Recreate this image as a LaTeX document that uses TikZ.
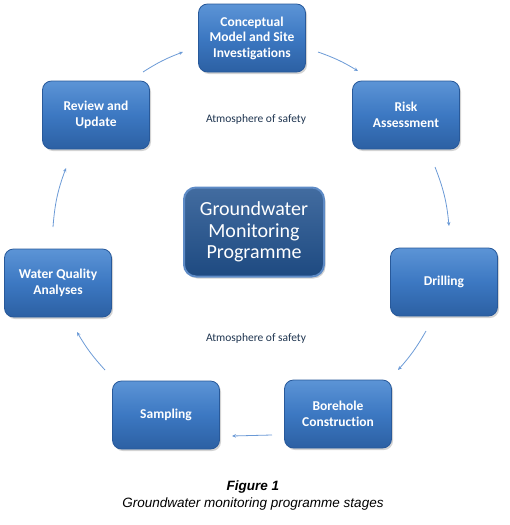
\documentclass[tikz,border=0pt]{standalone}
\usepackage{fontspec}
\setmainfont{Carlito}[Ligatures={NoCommon}]
\newfontfamily\capfont{Liberation Sans}
\usetikzlibrary{calc,shadows,arrows.meta}
\definecolor{boxtop}{HTML}{5C94D6}
\definecolor{boxmid}{HTML}{3C78C2}
\definecolor{boxbot}{HTML}{2C60A3}
\definecolor{boxedge}{HTML}{28599A}
\definecolor{ctrfill}{HTML}{21528F}
\definecolor{ctredge}{HTML}{5E8BC6}
\definecolor{arrowc}{HTML}{6B9AD6}
\definecolor{safety}{HTML}{1F3550}
\tikzset{
  stagebox/.style={rectangle, rounded corners=9pt, minimum width=107pt, minimum height=68pt,
    top color=boxtop, bottom color=boxbot, middle color=boxmid, draw=boxedge, line width=0.8pt,
    text=white, align=center, font=\fontsize{13.5}{15.5}\selectfont\bfseries,
    drop shadow={shadow xshift=1.5pt, shadow yshift=-2pt, opacity=0.35}},
  centerbox/.style={rectangle, rounded corners=12pt, minimum width=140pt, minimum height=89pt,
    top color=ctrfill!85!white, bottom color=ctrfill!90!black, draw=ctredge, line width=2pt,
    text=white, align=center, font=\fontsize{20}{21.5}\selectfont,
    drop shadow={shadow xshift=1.5pt, shadow yshift=-2pt, opacity=0.35}},
  flow/.style={draw=arrowc, line width=0.8pt, -{Stealth[length=4pt,width=3.5pt]}},
  safetext/.style={text=safety, font=\fontsize{11.5}{13}\selectfont},
}
\begin{document}
\begin{tikzpicture}[x=1pt,y=-1pt]
\useasboundingbox (0,0) rectangle (510,525);
\node[stagebox] (conc) at (252,38) {Conceptual\\Model and Site\\Investigations};
\node[stagebox] (risk) at (406,115) {Risk\\Assessment};
\node[stagebox] (drill) at (444,282) {Drilling};
\node[stagebox] (bore) at (338,414) {Borehole\\Construction};
\node[stagebox] (samp) at (166,415) {Sampling};
\node[stagebox] (wq) at (58,283) {Water Quality\\Analyses};
\node[stagebox] (rev) at (96,115) {Review and\\Update};
\node[centerbox] (ctr) at (254,232) {Groundwater\\Monitoring\\Programme};
\node[safetext] (s1) at (256,119) {Atmosphere of safety};
\node[safetext] (s2) at (256,338) {Atmosphere of safety};
\draw[flow] ($(conc)+(66,14)$) to[bend left=6] ($(risk)+(-48,-44)$);
\draw[flow] ($(risk)+(29,52)$) to[bend left=8] ($(drill)+(5,-56)$);
\draw[flow] ($(drill)+(-18,49)$) to[bend left=6] ($(bore)+(60,-44)$);
\draw[flow] ($(bore)+(-66,21)$) -- ($(samp)+(66,21)$);
\draw[flow] ($(samp)+(-61,-45)$) to[bend left=6] ($(wq)+(19,49)$);
\draw[flow] ($(wq)+(-5,-56)$) to[bend left=8] ($(rev)+(-30,53)$);
\draw[flow] ($(rev)+(47,-43)$) to[bend left=6] ($(conc)+(-69,14)$);
\node[font=\capfont\bfseries\itshape\fontsize{13.5}{15}\selectfont] (fig) at (253,487) {Figure 1};
\node[font=\capfont\itshape\fontsize{13.5}{15}\selectfont] (cap) at (253,504) {Groundwater monitoring programme stages};
\end{tikzpicture}
\end{document}
